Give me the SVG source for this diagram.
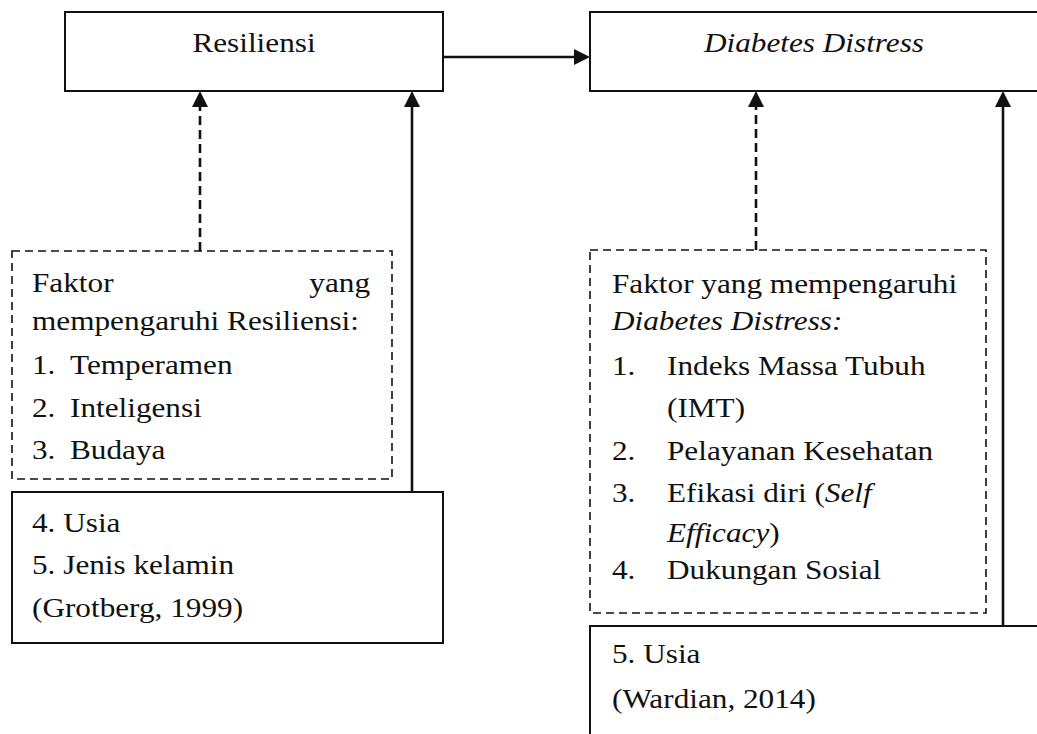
<svg xmlns="http://www.w3.org/2000/svg" width="1037" height="734" viewBox="0 0 1037 734">
<style>
text{font-family:"Liberation Serif","Times New Roman",serif;font-size:26.7px;fill:#111}
.it{font-style:italic}
.box{fill:none;stroke:#111;stroke-width:2}
.dbox{fill:none;stroke:#111;stroke-width:1.6;stroke-dasharray:8 5}
.con{fill:none;stroke:#111;stroke-width:2.6}
.dcon{fill:none;stroke:#111;stroke-width:2.6;stroke-dasharray:9 5}
</style>
<defs>
<marker id="ah" markerUnits="userSpaceOnUse" markerWidth="16" markerHeight="16" refX="0" refY="8" orient="auto" viewBox="0 0 16 16">
<path d="M0,0 L16,8 L0,16 z" fill="#111"/>
</marker>
</defs>
<rect width="1037" height="734" fill="#fff"/>
<g id="connectors">
<line class="con" x1="443" y1="57" x2="574" y2="57" marker-end="url(#ah)"/>
<line class="dcon" x1="200" y1="251" x2="200" y2="107" marker-end="url(#ah)"/>
<line class="con" x1="412" y1="492" x2="412" y2="107" marker-end="url(#ah)"/>
<line class="dcon" x1="756" y1="250" x2="756" y2="107" marker-end="url(#ah)"/>
<line class="con" x1="1003" y1="626" x2="1003" y2="107" marker-end="url(#ah)"/>
</g>
<g id="resiliensi">
<rect class="box" x="65" y="12" width="378" height="79"/>
<text transform="translate(254,52) scale(1.17,1)" text-anchor="middle">Resiliensi</text>
</g>
<g id="diabetes-distress">
<rect class="box" x="590" y="12" width="470" height="79"/>
<text class="it" transform="translate(814,52) scale(1.17,1)" text-anchor="middle">Diabetes Distress</text>
</g>
<g id="faktor-resiliensi">
<rect class="dbox" x="12" y="251" width="380" height="228"/>
<text transform="translate(32,292) scale(1.17,1)">Faktor</text>
<text transform="translate(370,292) scale(1.17,1)" text-anchor="end">yang</text>
<text transform="translate(32,330) scale(1.17,1)">mempengaruhi Resiliensi:</text>
<text transform="translate(32,374) scale(1.17,1)">1.</text>
<text transform="translate(70,374) scale(1.17,1)">Temperamen</text>
<text transform="translate(32,417) scale(1.17,1)">2.</text>
<text transform="translate(70,417) scale(1.17,1)">Inteligensi</text>
<text transform="translate(32,459) scale(1.17,1)">3.</text>
<text transform="translate(70,459) scale(1.17,1)">Budaya</text>
</g>
<g id="usia-jenis-kelamin">
<rect class="box" x="12" y="492" width="431" height="151"/>
<text transform="translate(32,532) scale(1.17,1)">4. Usia</text>
<text transform="translate(32,574) scale(1.17,1)">5. Jenis kelamin</text>
<text transform="translate(32,617) scale(1.17,1)">(Grotberg, 1999)</text>
</g>
<g id="faktor-diabetes-distress">
<rect class="dbox" x="590" y="250" width="396" height="363"/>
<text transform="translate(612,293) scale(1.17,1)">Faktor yang mempengaruhi</text>
<text class="it" transform="translate(612,330) scale(1.17,1)">Diabetes Distress:</text>
<text transform="translate(612,375) scale(1.17,1)">1.</text>
<text transform="translate(667,375) scale(1.17,1)">Indeks Massa Tubuh</text>
<text transform="translate(667,417) scale(1.17,1)">(IMT)</text>
<text transform="translate(612,460) scale(1.17,1)">2.</text>
<text transform="translate(667,460) scale(1.17,1)">Pelayanan Kesehatan</text>
<text transform="translate(612,502) scale(1.17,1)">3.</text>
<text transform="translate(667,502) scale(1.17,1)">Efikasi diri (<tspan class="it">Self</tspan></text>
<text transform="translate(667,542) scale(1.17,1)"><tspan class="it">Efficacy</tspan>)</text>
<text transform="translate(612,579) scale(1.17,1)">4.</text>
<text transform="translate(667,579) scale(1.17,1)">Dukungan Sosial</text>
</g>
<g id="usia-wardian">
<rect class="box" x="590" y="626" width="470" height="120"/>
<text transform="translate(612,663) scale(1.17,1)">5. Usia</text>
<text transform="translate(612,708) scale(1.17,1)">(Wardian, 2014)</text>
</g>
</svg>
